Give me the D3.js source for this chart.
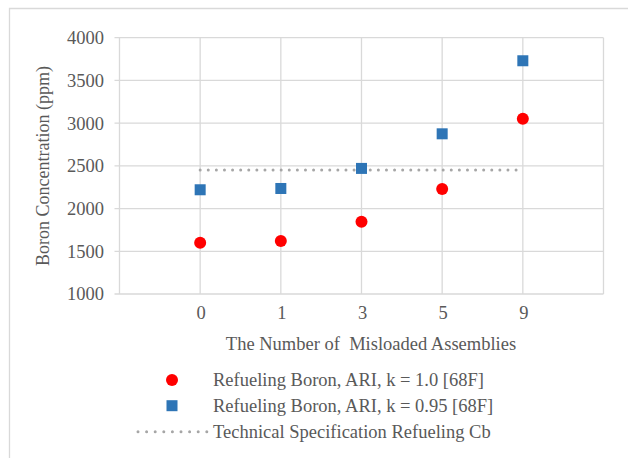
<!DOCTYPE html>
<html><head><meta charset="utf-8">
<script src="https://cdn.jsdelivr.net/npm/d3@7"></script>
<style>
html,body{margin:0;padding:0;background:#fff;}
text{font-family:"Liberation Serif","Times New Roman",serif;fill:#595959;}
</style></head>
<body>
<svg id="chart" width="628" height="458"></svg>
<script>
const categories = ["0","1","3","5","9"];
const seriesK100 = [1600, 1620, 1845, 2230, 3050];
const seriesK095 = [2220, 2235, 2470, 2875, 3730];
const techSpec = [2450, 2450, 2450, 2450, 2450];
const yTicks = [1000, 1500, 2000, 2500, 3000, 3500, 4000];
const legendLabels = ["Refueling Boron, ARI, k = 1.0 [68F]", "Refueling Boron, ARI, k = 0.95 [68F]", "Technical Specification Refueling Cb"];
const xTitle = "The Number of\u00a0 Misloaded Assemblies";
const yTitle = "Boron Concentration (ppm)";

const svg = d3.select("#chart");
const M = {left:119.5, right:603.5, top:37.7, bottom:294};
const fs = 18.5;

// outer frame (top + left)
svg.append("path").attr("d", "M9.5,458 L9.5,8.5 L628,8.5").attr("fill","none").attr("stroke","#d9d9d9").attr("stroke-width",1.3);

const x = d3.scalePoint().domain(categories).range([M.left, M.right]).padding(1);
const y = d3.scaleLinear().domain([1000, 4000]).range([M.bottom, M.top]);

// horizontal gridlines
svg.append("g").selectAll("line").data(yTicks).join("line")
  .attr("x1", M.left - 5).attr("x2", M.right)
  .attr("y1", d => y(d)).attr("y2", d => y(d))
  .attr("stroke", "#d9d9d9").attr("stroke-width", 1.3);
// vertical gridlines
const vx = [M.left, ...categories.map(c => x(c)), M.right];
svg.append("g").selectAll("line").data(vx).join("line")
  .attr("x1", d => d).attr("x2", d => d)
  .attr("y1", M.top).attr("y2", M.bottom)
  .attr("stroke", "#d9d9d9").attr("stroke-width", 1.3);

function htext(g, px, py, anchor, str) {
  return g.append("text")
    .attr("x", px).attr("y", py)
    .attr("dy", "0.35em").attr("text-anchor", anchor).attr("font-size", fs)
    .text(str);
}

// y tick labels
const gy = svg.append("g");
yTicks.forEach(t => htext(gy, 104, y(t), "end", t));
// x tick labels
const gx = svg.append("g");
categories.forEach(c => htext(gx, x(c) + 1, 313, "middle", c));

// axis titles
svg.append("text").attr("transform", "translate(43,166) rotate(-90)")
  .attr("text-anchor","middle").attr("dy","0.35em").attr("font-size", 18).text(yTitle);
htext(svg, 371, 344, "middle", xTitle);

// tech spec dotted line
const line = d3.line().x((d,i) => x(categories[i])).y(d => y(d));
svg.append("path").datum(techSpec).attr("d", line)
  .attr("fill","none").attr("stroke","#a6a6a6").attr("stroke-width",3)
  .attr("stroke-linecap","round").attr("stroke-dasharray","0,8.1");

// series markers
svg.append("g").selectAll("rect").data(seriesK095).join("rect")
  .attr("x", (d,i) => x(categories[i]) - 5.5).attr("y", d => y(d) - 5.5)
  .attr("width", 11).attr("height", 11).attr("fill", "#2e75b6");
svg.append("g").selectAll("circle").data(seriesK100).join("circle")
  .attr("cx", (d,i) => x(categories[i])).attr("cy", d => y(d)).attr("r", 6)
  .attr("fill", "#ff0000");

// legend
const ly = [380, 405.7, 431.7];
svg.append("circle").attr("cx", 172).attr("cy", ly[0]).attr("r", 6).attr("fill","#ff0000");
svg.append("rect").attr("x", 166.5).attr("y", ly[1]-5.5).attr("width",11).attr("height",11).attr("fill","#2e75b6");
svg.append("line").attr("x1",138).attr("x2",207).attr("y1",ly[2]).attr("y2",ly[2])
  .attr("stroke","#a6a6a6").attr("stroke-width",3).attr("stroke-linecap","round").attr("stroke-dasharray","0,8.6");
const gl = svg.append("g");
legendLabels.forEach((s, i) => htext(gl, 213, ly[i], "start", s));
</script>
</body></html>
